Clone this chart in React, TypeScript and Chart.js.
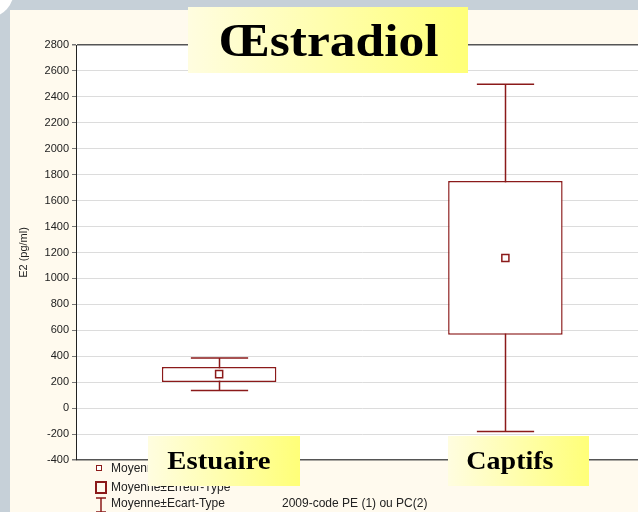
import React, { useEffect, useRef } from 'react';
import { Chart, registerables } from 'chart.js';
Chart.register(...registerables);

const categories = ['Estuaire', 'Captifs'];
const means = [262, 1157];
const seLow = [202, 565];
const seHigh = [318, 1752];
const sdLow = [135, -181];
const sdHigh = [387, 2497];
const yMin = -400;
const yMax = 2800;
const yStep = 200;
const yTitle = 'E2 (pg/ml)';
const chartTitle = 'Œstradiol';
const legendLabels = ['Moyenne', 'Moyenne±Erreur-Type', 'Moyenne±Ecart-Type'];
const footnote = '2009-code PE (1) ou PC(2)';

const RED = '#8b1a1a';
const GRAY = '#c6d0d8';
const CREAM = '#fffaee';
const YELLOW = 'linear-gradient(to right, #fffde0, #ffff78)';
const SANS = '"Liberation Sans", Arial, sans-serif';
const SERIF = '"Liberation Serif", "Times New Roman", serif';

const bgPlugin = {
  id: 'plotBg',
  beforeDraw(chart: any) {
    const { ctx, chartArea } = chart;
    ctx.save();
    ctx.fillStyle = '#ffffff';
    ctx.fillRect(chartArea.left, chartArea.top, chartArea.right - chartArea.left, chartArea.bottom - chartArea.top);
    ctx.restore();
  },
};

const whiskerPlugin = {
  id: 'whiskers',
  beforeDatasetsDraw(chart: any) {
    const { ctx } = chart;
    const xs = chart.scales.x;
    const ys = chart.scales.y;
    const cw = xs.getPixelForValue(1) - xs.getPixelForValue(0);
    const half = cw * 0.1;
    ctx.save();
    ctx.strokeStyle = RED;
    ctx.lineWidth = 1.5;
    categories.forEach((_, i) => {
      const px = Math.round(xs.getPixelForValue(i)) + 0.5;
      const hi = ys.getPixelForValue(sdHigh[i]);
      const lo = ys.getPixelForValue(sdLow[i]);
      ctx.beginPath();
      ctx.moveTo(px, hi);
      ctx.lineTo(px, lo);
      ctx.moveTo(px - half, hi);
      ctx.lineTo(px + half, hi);
      ctx.moveTo(px - half, lo);
      ctx.lineTo(px + half, lo);
      ctx.stroke();
    });
    ctx.restore();
  },
};

function YellowLabel(props: { left: number; top: number; width: number; height: number; textCenter: number; size: number; text: string; scale: number }) {
  const { left, top, width, height, textCenter, size, text, scale } = props;
  return (
    <div style={{ position: 'absolute', left, top, width, height, background: YELLOW }}>
      <div
        style={{
          position: 'absolute',
          left: textCenter - left - 200,
          width: 400,
          top: 0,
          height,
          display: 'flex',
          alignItems: 'center',
          justifyContent: 'center',
          fontFamily: SERIF,
          fontWeight: 'bold',
          fontSize: size,
          color: '#000',
          whiteSpace: 'nowrap',
        }}
      >
        <span style={{ display: 'inline-block', transform: `scaleX(${scale})` }}>{text}</span>
      </div>
    </div>
  );
}

export default function App() {
  const ref = useRef<HTMLCanvasElement | null>(null);

  useEffect(() => {
    if (!ref.current) return;
    const chart = new Chart(ref.current, {
      type: 'bar',
      data: {
        labels: categories,
        datasets: [
          {
            type: 'bar',
            data: categories.map((_, i) => [seLow[i], seHigh[i]]) as any,
            backgroundColor: '#ffffff',
            borderColor: RED,
            borderWidth: 1.5,
            borderSkipped: false,
            barPercentage: 0.4,
            categoryPercentage: 1,
            order: 2,
          } as any,
          {
            type: 'line',
            data: means,
            showLine: false,
            pointStyle: 'rect',
            pointRadius: 5,
            pointBorderWidth: 1.5,
            pointBackgroundColor: '#ffffff',
            pointBorderColor: RED,
            order: 1,
          } as any,
        ],
      },
      options: {
        responsive: false,
        animation: false,
        layout: { padding: { top: 45, bottom: 52, left: 0, right: 0 } },
        plugins: {
          legend: { display: false },
          tooltip: { enabled: false },
          title: { display: false },
        },
        scales: {
          x: { display: false, offset: true },
          y: {
            min: yMin,
            max: yMax,
            afterFit: (s: any) => {
              s.width = 76;
            },
            ticks: {
              stepSize: yStep,
              padding: 3,
              color: '#222',
              font: { family: SANS, size: 11 },
              callback: (v: any) => String(v),
            },
            grid: {
              color: (c: any) => (c.tick && (c.tick.value === yMax || c.tick.value === yMin) ? '#555' : '#dcdcdc'),
              lineWidth: (c: any) => (c.tick && (c.tick.value === yMax || c.tick.value === yMin) ? 1.5 : 1),
              tickLength: 4,
              tickColor: '#777',
            },
            border: { color: '#222', width: 1 },
            title: {
              display: true,
              text: yTitle,
              color: '#222',
              font: { family: SANS, size: 11 },
              padding: { top: 17, bottom: 0 },
            },
          },
        },
      } as any,
      plugins: [bgPlugin, whiskerPlugin],
    });
    return () => chart.destroy();
  }, []);

  const textStyle: React.CSSProperties = {
    position: 'absolute',
    fontFamily: SANS,
    fontSize: 12,
    lineHeight: '14px',
    color: '#222',
    whiteSpace: 'nowrap',
  };

  return (
    <div style={{ position: 'fixed', left: 0, top: 0, width: 638, height: 512, overflow: 'hidden', background: GRAY }}>
      <div style={{ position: 'absolute', left: -34, top: -37, width: 48, height: 54, borderRadius: '50%', background: '#ffffff' }} />
      <div style={{ position: 'absolute', left: 10, top: 10, right: 0, bottom: 0, background: CREAM }} />
      <canvas ref={ref} width={655} height={512} style={{ position: 'absolute', left: 0, top: 0, width: 655, height: 512 }} />

      <div style={{ position: 'absolute', left: 96, top: 465, width: 6, height: 6, boxSizing: 'border-box', border: `1.5px solid ${RED}`, background: '#fff' }} />
      <div style={{ ...textStyle, left: 111, top: 461 }}>{legendLabels[0]}</div>
      <div style={{ position: 'absolute', left: 95, top: 481, width: 12, height: 13, boxSizing: 'border-box', border: `2px solid ${RED}` }} />
      <div style={{ ...textStyle, left: 111, top: 480 }}>{legendLabels[1]}</div>
      <svg style={{ position: 'absolute', left: 94, top: 497 }} width={14} height={16}>
        <path d="M2 1 H12 M7 1 V15 M2 15 H12" stroke={RED} strokeWidth={1.5} fill="none" />
      </svg>
      <div style={{ ...textStyle, left: 111, top: 496 }}>{legendLabels[2]}</div>
      <div style={{ ...textStyle, left: 282, top: 496 }}>{footnote}</div>

      <YellowLabel left={188} top={7} width={280} height={66} textCenter={328} size={46} text={chartTitle} scale={1.12} />
      <YellowLabel left={148} top={436} width={152} height={50} textCenter={219} size={25} text={categories[0]} scale={1.15} />
      <YellowLabel left={448} top={436} width={141} height={50} textCenter={510} size={25} text={categories[1]} scale={1.12} />
    </div>
  );
}
